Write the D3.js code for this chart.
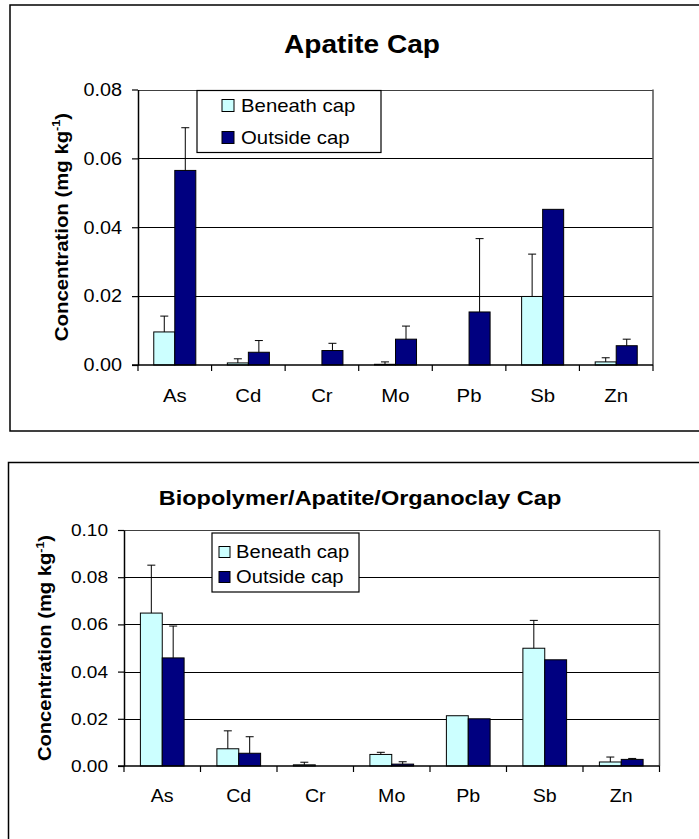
<!DOCTYPE html>
<html>
<head>
<meta charset="utf-8">
<script src="https://cdn.jsdelivr.net/npm/d3@7"></script>
<style>
  body { margin: 0; background: #fff; }
  text { font-family: Arial, "Liberation Sans", sans-serif; fill: #000; }
</style>
</head>
<body>
<svg id="page" width="699" height="839"></svg>
<script>
// categories and series
const elements = ['As', 'Cd', 'Cr', 'Mo', 'Pb', 'Sb', 'Zn'];
const seriesNames = ['Beneath cap', 'Outside cap'];
const seriesColors = ['#ccffff', '#000080'];

// Apatite cap (mg/kg) and + error
const apatiteBeneath    = [0.0096, 0.0006, 0.0000, 0.0002, 0.0000, 0.0199, 0.0009];
const apatiteBeneathErr = [0.0046, 0.0012, 0.0000, 0.0007, 0.0000, 0.0123, 0.0012];
const apatiteOutside    = [0.0565, 0.0037, 0.0042, 0.0075, 0.0154, 0.0452, 0.0056];
const apatiteOutsideErr = [0.0124, 0.0034, 0.0021, 0.0038, 0.0213, 0.0000, 0.0019];
const apatiteTicks = [0, 0.02, 0.04, 0.06, 0.08];

// Biopolymer/Apatite/Organoclay cap
const bioBeneath    = [0.0648, 0.0073, 0.0005, 0.0049, 0.0213, 0.0499, 0.0017];
const bioBeneathErr = [0.0203, 0.0076, 0.0011, 0.0009, 0.0000, 0.0118, 0.0021];
const bioOutside    = [0.0458, 0.0054, 0.0000, 0.0008, 0.0200, 0.0450, 0.0028];
const bioOutsideErr = [0.0135, 0.0070, 0.0000, 0.0010, 0.0000, 0.0000, 0.0004];
const bioTicks = [0, 0.02, 0.04, 0.06, 0.08, 0.10];

const svg = d3.select('#page');

// the pasted charts look stretched sideways a little
function stretch(sel, k) {
  sel.each(function() {
    const len = this.getComputedTextLength();
    this.setAttribute('textLength', len * k);
    this.setAttribute('lengthAdjust', 'spacingAndGlyphs');
  });
}

function drawChart(cfg) {
  const g = svg.append('g');

  // outer frame
  g.append('rect')
    .attr('x', cfg.box[0]).attr('y', cfg.box[1])
    .attr('width', cfg.box[2]).attr('height', cfg.box[3])
    .attr('fill', 'none').attr('stroke', '#000').attr('stroke-width', 1.5);

  const xScale = d3.scaleBand()
    .domain(elements)
    .range([cfg.left, cfg.right]);

  const inner = d3.scaleBand()
    .domain(seriesNames)
    .range([0, xScale.bandwidth()])
    .paddingInner(0)
    .paddingOuter(0.75);

  const yScale = d3.scaleLinear()
    .domain([0, d3.max(cfg.ticks)])
    .range([cfg.bottom, cfg.top]);

  // gridlines
  g.selectAll('.grid')
    .data(cfg.ticks.filter(t => t > 0))
    .join('line')
    .attr('x1', cfg.left).attr('x2', cfg.right)
    .attr('y1', d => Math.round(yScale(d)) + 0.5)
    .attr('y2', d => Math.round(yScale(d)) + 0.5)
    .attr('stroke', (d, i, n) => i == n.length - 1 ? '#404040' : '#000')
    .attr('stroke-width', 1.2);

  // plot border right side
  g.append('line')
    .attr('x1', cfg.right).attr('x2', cfg.right)
    .attr('y1', cfg.top).attr('y2', cfg.bottom)
    .attr('stroke', '#505050').attr('stroke-width', 1.5);

  // bars
  const rows = [];
  elements.forEach((e, i) => {
    rows.push({ el: e, s: seriesNames[0], v: cfg.beneath[i], err: cfg.beneathErr[i], c: seriesColors[0] });
    rows.push({ el: e, s: seriesNames[1], v: cfg.outside[i], err: cfg.outsideErr[i], c: seriesColors[1] });
  });

  g.selectAll('.bar')
    .data(rows.filter(d => d.v > 0))
    .join('rect')
    .attr('x', d => xScale(d.el) + inner(d.s))
    .attr('y', d => yScale(d.v))
    .attr('width', inner.bandwidth())
    .attr('height', d => yScale(0) - yScale(d.v))
    .attr('fill', d => d.c)
    .attr('stroke', '#000')
    .attr('stroke-width', 1);

  // error bars (upper only)
  const errs = rows.filter(d => d.err > 0);
  const cx = d => xScale(d.el) + inner(d.s) + inner.bandwidth() / 2;
  g.selectAll('.err')
    .data(errs)
    .join('line')
    .attr('x1', cx).attr('x2', cx)
    .attr('y1', d => yScale(d.v)).attr('y2', d => yScale(d.v + d.err))
    .attr('stroke', '#000').attr('stroke-width', 1);
  g.selectAll('.cap')
    .data(errs)
    .join('line')
    .attr('x1', d => cx(d) - 4).attr('x2', d => cx(d) + 4)
    .attr('y1', d => yScale(d.v + d.err)).attr('y2', d => yScale(d.v + d.err))
    .attr('stroke', '#000').attr('stroke-width', 1);

  // y axis
  const yAxis = g.append('g')
    .attr('transform', `translate(${cfg.left}, 0)`)
    .call(d3.axisLeft(yScale).tickValues(cfg.ticks).tickFormat(d3.format('.2f')).tickSize(6).tickSizeOuter(0).tickPadding(10));
  yAxis.select('.domain').attr('stroke', '#000').attr('stroke-width', 1.5);
  yAxis.selectAll('line').attr('stroke', '#000').attr('stroke-width', 1.2);
  yAxis.selectAll('text')
    .attr('font-size', cfg.tickFont)
    .attr('font-family', 'Arial, "Liberation Sans", sans-serif')
    .attr('fill', '#000')
    .call(stretch, cfg.k);

  // x axis line and boundary ticks
  g.append('line')
    .attr('x1', cfg.left - 6).attr('x2', cfg.right)
    .attr('y1', cfg.bottom).attr('y2', cfg.bottom)
    .attr('stroke', '#000').attr('stroke-width', 1.5);
  g.selectAll('.xtick')
    .data(elements.map(e => xScale(e)).concat([cfg.right]))
    .join('line')
    .attr('x1', d => d).attr('x2', d => d)
    .attr('y1', cfg.bottom).attr('y2', cfg.bottom + 6)
    .attr('stroke', '#000').attr('stroke-width', 1.2);

  g.selectAll('.xlab')
    .data(elements)
    .join('text')
    .attr('x', d => xScale(d) + xScale.bandwidth() / 2)
    .attr('y', cfg.xLabelY)
    .attr('text-anchor', 'middle')
    .attr('font-size', cfg.xFont)
    .text(d => d)
    .call(stretch, cfg.k);

  // title
  g.append('text')
    .attr('x', cfg.titleX).attr('y', cfg.titleY)
    .attr('text-anchor', 'middle')
    .attr('font-size', cfg.titleFont)
    .attr('font-weight', 'bold')
    .text(cfg.title)
    .call(stretch, cfg.k);

  // y axis label
  const yl = g.append('text')
    .attr('transform', `translate(${cfg.yLabelX}, ${cfg.yLabelY}) rotate(-90)`)
    .attr('text-anchor', 'middle')
    .attr('dy', '0.36em')
    .attr('font-size', cfg.yLabelFont)
    .attr('font-weight', 'bold');
  yl.append('tspan').text('Concentration (mg kg');
  yl.append('tspan').attr('font-size', cfg.yLabelFont * 0.62).attr('dy', -cfg.yLabelFont * 0.4).text('-1');
  yl.append('tspan').attr('dy', cfg.yLabelFont * 0.4).text(')');
  yl.call(stretch, cfg.k);

  // legend
  const lg = cfg.legend;
  g.append('rect')
    .attr('x', lg.x).attr('y', lg.y).attr('width', lg.w).attr('height', lg.h)
    .attr('fill', '#fff').attr('stroke', '#000').attr('stroke-width', 1.2);
  seriesNames.forEach((s, i) => {
    const yy = lg.y + lg.rows[i];
    g.append('rect')
      .attr('x', lg.x + lg.swX).attr('y', yy - lg.sw / 2)
      .attr('width', lg.sw).attr('height', lg.sw)
      .attr('fill', seriesColors[i]).attr('stroke', '#000').attr('stroke-width', 1);
    g.append('text')
      .attr('x', lg.x + lg.textX).attr('y', yy)
      .attr('dy', '0.36em')
      .attr('font-size', lg.font)
      .text(s)
      .call(stretch, cfg.k);
  });
}

drawChart({
  title: 'Apatite Cap',
  box: [10, 5, 720, 426],
  left: 138, right: 653, top: 89.5, bottom: 365,
  ticks: apatiteTicks,
  beneath: apatiteBeneath, beneathErr: apatiteBeneathErr,
  outside: apatiteOutside, outsideErr: apatiteOutsideErr,
  k: 1.1,
  tickFont: 18, xFont: 18.5, xLabelY: 402,
  titleFont: 25.5, titleX: 362, titleY: 53,
  yLabelFont: 18.5, yLabelX: 61, yLabelY: 227,
  legend: { x: 197, y: 90.5, w: 184, h: 62, rows: [15, 47], sw: 12, swX: 25, textX: 44, font: 18.5 }
});

drawChart({
  title: 'Biopolymer/Apatite/Organoclay Cap',
  box: [8.5, 462.5, 720, 420],
  left: 124, right: 659.5, top: 530, bottom: 766,
  ticks: bioTicks,
  beneath: bioBeneath, beneathErr: bioBeneathErr,
  outside: bioOutside, outsideErr: bioOutsideErr,
  k: 1.12,
  tickFont: 17, xFont: 17.5, xLabelY: 802,
  titleFont: 21, titleX: 360, titleY: 505,
  yLabelFont: 18, yLabelX: 45, yLabelY: 648,
  legend: { x: 212, y: 533, w: 147, h: 59, rows: [19, 44], sw: 11, swX: 7, textX: 24, font: 18 }
});
</script>
</body>
</html>
